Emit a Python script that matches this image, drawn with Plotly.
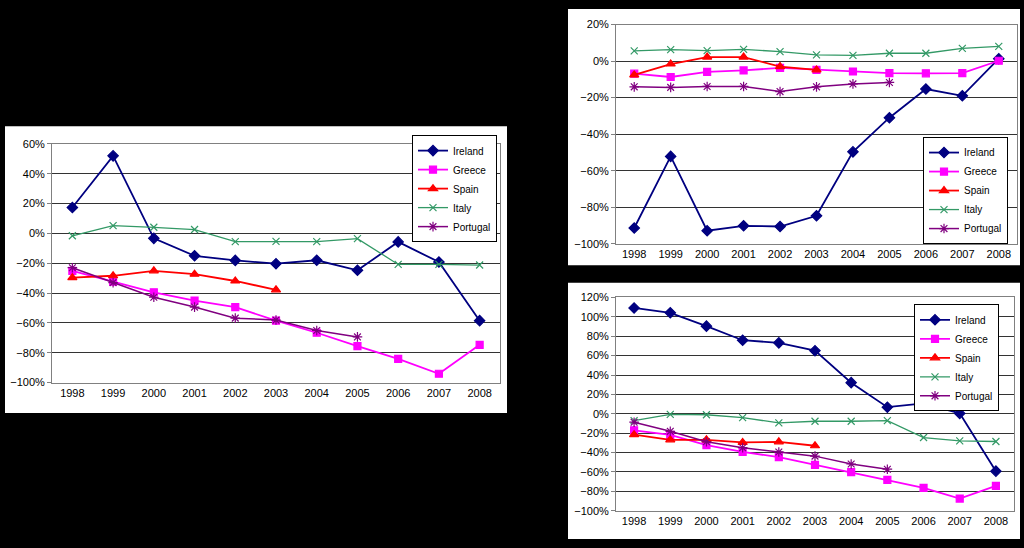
import plotly.graph_objects as go

years = ["1998", "1999", "2000", "2001", "2002", "2003", "2004", "2005", "2006", "2007", "2008"]
countries = ["Ireland", "Greece", "Spain", "Italy", "Portugal"]

# Panel 1 (left)
ireland_1 = [17.4, 52, -3.3, -15, -18.1, -20.3, -18, -24.7, -5.7, -19.2, -58.5]
greece_1 = [-25.1, -32.3, -39.5, -45, -49.4, -58.5, -66.6, -75.6, -84.1, -94.1, -74.7]
spain_1 = [-29.7, -28.4, -25.1, -27.3, -31.9, -37.8]
italy_1 = [-1.6, 5.2, 4.1, 2.6, -5.5, -5.3, -5.5, -3.5, -20.8, -20.8, -21.2]
portugal_1 = [-23, -33, -42.8, -49.4, -56.8, -58.1, -65.1, -69.4]

# Panel 2 (top right)
ireland_2 = [-91.4, -52.2, -92.9, -90.2, -90.6, -84.7, -49.7, -31, -15.3, -19, 1.3]
greece_2 = [-6.9, -8.7, -5.9, -5.1, -3.7, -4.8, -5.7, -6.6, -6.7, -6.6, 0.2]
spain_2 = [-7.6, -1.6, 2.2, 2.2, -3, -4.8]
italy_2 = [5.6, 6.3, 5.7, 6.4, 5.2, 3.4, 3.1, 4.3, 4.3, 7, 8.1]
portugal_2 = [-14.1, -14.4, -13.9, -13.9, -16.7, -14.1, -12.5, -11.7]

# Panel 3 (bottom right)
ireland_3 = [109.2, 104.2, 90.4, 75.9, 73.2, 65.1, 32.1, 6.8, 10.8, 0.4, -59.2]
greece_3 = [-17.1, -21.8, -32.3, -39.4, -44.7, -52.8, -60.2, -68.3, -76.4, -87.5, -74.4]
spain_3 = [-21.5, -26.9, -26.9, -29.6, -28.9, -33]
italy_3 = [-7, -0.6, -1, -4, -9.4, -7.7, -7.7, -7, -24.5, -27.9, -28.6]
portugal_3 = [-8.7, -18.1, -28.9, -35, -39.4, -43.7, -51.8, -57.2]

y_ranges = [(-100, 60, 20), (-100, 20, 20), (-100, 120, 20)]

W, H = 1024, 548
# panel geometry in pixels: plot area (x0, x1, ytop, ybottom), white box, legend (x, ytop)
panels = [
    dict(plot=(52, 500, 141, 385), box=(5, 507, 123, 416), legend=(412, 132)),
    dict(plot=(616, 1017, 19, 243), box=(568, 1020, 3, 265), legend=(923, 134)),
    dict(plot=(616, 1014, 298, 516), box=(568, 1020, 283, 545), legend=(914, 305)),
]

styles = {
    "Ireland": dict(color="#000080", symbol="diamond", size=8, width=1.8),
    "Greece": dict(color="#FF00FF", symbol="square", size=7, width=1.8),
    "Spain": dict(color="#FF0000", symbol="triangle-up", size=8, width=1.8),
    "Italy": dict(color="#339966", symbol="x-thin-open", size=7, width=1.3),
    "Portugal": dict(color="#800080", symbol="asterisk-open", size=8, width=1.5),
}

data = [
    [ireland_1, greece_1, spain_1, italy_1, portugal_1],
    [ireland_2, greece_2, spain_2, italy_2, portugal_2],
    [ireland_3, greece_3, spain_3, italy_3, portugal_3],
]

fig = go.Figure()
font = "Liberation Sans, Arial, sans-serif"
layout = dict(
    width=W, height=H, margin=dict(l=0, r=0, t=0, b=0),
    paper_bgcolor="black", plot_bgcolor="white", showlegend=True,
    font=dict(family=font, size=11, color="black"),
)
shapes = []
xidx = list(range(len(years)))

for p, (panel, series, (ymin, ymax, dy)) in enumerate(zip(panels, data, y_ranges)):
    n = "" if p == 0 else str(p + 1)
    x0, x1, yt, yb = panel["plot"]
    bx0, bx1, byt, byb = panel["box"]
    shapes.append(dict(type="rect", xref="paper", yref="paper", layer="below",
                       x0=bx0 / W, x1=bx1 / W, y0=1 - byb / H, y1=1 - byt / H,
                       fillcolor="white", line=dict(width=0)))
    leg = "legend" + n
    for name, vals in zip(countries, series):
        s = styles[name]
        fig.add_trace(go.Scatter(
            x=xidx[:len(vals)], y=vals, name=name, mode="lines+markers",
            xaxis="x" + n, yaxis="y" + n, legend=leg,
            line=dict(color=s["color"], width=s["width"]),
            marker=dict(symbol=s["symbol"], size=s["size"], color=s["color"],
                        line=dict(color=s["color"], width=1.2)),
        ))
    dom_y = [1 - yb / H, 1 - yt / H]
    layout["xaxis" + n] = dict(
        domain=[x0 / W, x1 / W], anchor="y" + n, range=[-0.5, len(years) - 0.5],
        tickmode="array", tickvals=xidx, ticktext=years, ticks="", showgrid=False,
        zeroline=False, showline=True, linecolor="#808080", mirror=True,
        tickfont=dict(size=11), fixedrange=True,
    )
    layout["yaxis" + n] = dict(
        domain=dom_y, anchor="x" + n, range=[ymin, ymax], tickmode="linear",
        tick0=ymin, dtick=dy, ticksuffix="%", showgrid=True, gridcolor="#333333",
        gridwidth=1, zeroline=False, showline=True, linecolor="#808080", mirror=True,
        ticks="outside", ticklen=4, tickcolor="#808080", tickfont=dict(size=11),
        fixedrange=True,
    )
    # category axis crossing at 0 (tick marks between categories)
    zero_pos = dom_y[0] + (0 - ymin) / (ymax - ymin) * (dom_y[1] - dom_y[0])
    ax_id = str(p + 4)
    layout["xaxis" + ax_id] = dict(
        domain=[x0 / W, x1 / W], overlaying="x" + n, anchor="free", position=zero_pos,
        range=[-0.5, len(years) - 0.5], tickmode="array",
        tickvals=[i - 0.5 for i in range(len(years) + 1)], showticklabels=False,
        ticks="outside", ticklen=4, tickcolor="#404040", showgrid=False,
        zeroline=False, showline=True, linecolor="#404040", fixedrange=True,
    )
    lx, lyt = panel["legend"]
    layout[leg] = dict(
        x=lx / W, y=1 - lyt / H, xanchor="left", yanchor="top",
        bgcolor="white", bordercolor="black", borderwidth=1,
        font=dict(size=10, family=font), itemwidth=30, tracegroupgap=0,
    )

layout["shapes"] = shapes
fig.update_layout(**layout)
fig.write_html(
    "out.html",
    config={"displayModeBar": False},
    post_script="document.body.style.margin='0';document.body.style.overflow='hidden';document.body.style.background='black';",
)
